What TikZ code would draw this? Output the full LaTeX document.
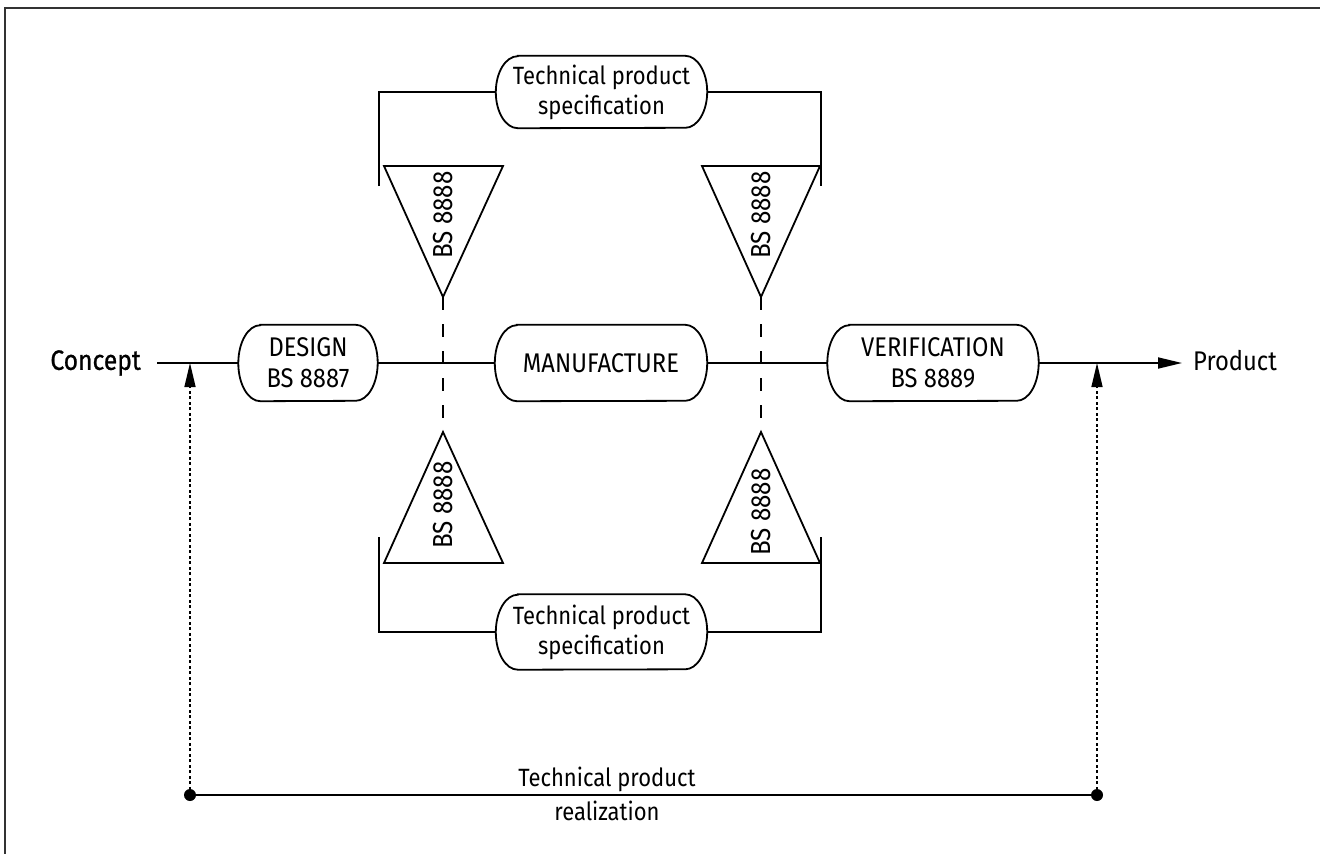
\documentclass[tikz,border=0pt]{standalone}
\usepackage{fontspec}
\setmainfont{Fira Sans}[FakeStretch=0.88]
\newfontfamily\conceptfont{Fira Sans}[FakeStretch=0.88, FakeBold=0.8]
\usetikzlibrary{arrows.meta}

% outline of a stage box: straight top and bottom, elliptic ends
% #1 node name, #2 half height of the box
\newcommand\stageoutline[2]{%
  \draw[line]
    ([xshift=22pt]#1.north west) -- ([xshift=-22pt]#1.north east)
    arc[start angle=90, end angle=-90, x radius=22pt, y radius=#2]
    -- ([xshift=22pt]#1.south west)
    arc[start angle=270, end angle=90, x radius=22pt, y radius=#2]
    -- cycle;}

\tikzset{
  x=1pt, y=-1pt,
  line/.style={line width=1.8pt},
  stage/.style={rectangle, inner sep=0pt, minimum height=76pt, align=center,
    font=\fontsize{27}{31}\selectfont},
  spec/.style={stage, font=\fontsize{25}{30}\selectfont},
  label/.style={inner sep=0pt, font=\fontsize{27}{31}\selectfont},
  stdtri/.style={line width=1.8pt, line join=miter},
  stdtext/.style={inner sep=0pt, rotate=90, font=\fontsize{27.5}{31}\selectfont},
  link/.style={line width=1.8pt, dash pattern=on 13pt off 14pt},
  feed/.style={line width=1.4pt, dash pattern=on 3pt off 2.5pt,
    -{Triangle[length=24pt,width=11pt]}},
  arrowline/.style={line width=1.8pt, -{Triangle[length=24pt,width=11pt]}},
  frame/.style={line width=2pt, black!80},
}

\begin{document}
\begin{tikzpicture}
\useasboundingbox (0,0) rectangle (1320,854);

% sheet frame
\draw[frame] (5,854) -- (5,8) -- (1320,8);

% main process chain
\node[label, font=\fontsize{28}{32}\conceptfont, anchor=east] (concept) at (141,363) {Concept};
\node[stage, minimum width=139pt] (design) at (308,363) {DESIGN\\BS 8887};
\node[stage, minimum width=212pt] (manuf) at (601,363) {MANUFACTURE};
\node[stage, minimum width=211pt] (verif) at (933,363) {VERIFICATION\\BS 8889};
\node[label, anchor=west] (product) at (1193,361) {Product};
\stageoutline{design}{38pt}
\stageoutline{manuf}{38pt}
\stageoutline{verif}{38pt}

\coordinate (cstart) at (157,363);
\coordinate (pend) at (1182,363);
\draw[line] (cstart) -- (design.west);
\draw[line] (design.east) -- (manuf.west);
\draw[line] (manuf.east) -- (verif.west);
\draw[arrowline] (verif.east) -- (pend);

% specification boxes
\node[spec, minimum width=211pt, minimum height=72pt] (tpsup) at (601.5,92) {Technical product\\specification};
\node[spec, minimum width=211pt, minimum height=75pt] (tpslo) at (601.5,632) {Technical product\\specification};
\stageoutline{tpsup}{36pt}
\stageoutline{tpslo}{37.5pt}

% BS 8888 triangles
\coordinate (ula) at (443,297);
\coordinate (ura) at (761,297);
\coordinate (lla) at (443,432);
\coordinate (lra) at (761,432);
\draw[stdtri] (384,166) -- (503,166) -- (ula) -- cycle;
\draw[stdtri] (702,166) -- (820,166) -- (ura) -- cycle;
\draw[stdtri] (384,563) -- (503,563) -- (lla) -- cycle;
\draw[stdtri] (702,563) -- (820,563) -- (lra) -- cycle;
\node[stdtext] (tul) at (443,215) {BS 8888};
\node[stdtext] (tur) at (761,215) {BS 8888};
\node[stdtext] (tll) at (443,505) {BS 8888};
\node[stdtext] (tlr) at (761,512) {BS 8888};

% dashed links between triangle tips
\draw[link] (ula) -- (lla);
\draw[link] (ura) -- (lra);

% brackets to the specification boxes
\coordinate (bul) at (379,186);
\coordinate (bur) at (821,186);
\coordinate (bll) at (379,537);
\coordinate (blr) at (821,537);
\draw[line] (bul) |- (tpsup.west);
\draw[line] (tpsup.east) -| (bur);
\draw[line] (bll) |- (tpslo.west);
\draw[line] (tpslo.east) -| (blr);

% realization span
\coordinate (rl) at (190,795);
\coordinate (rr) at (1097,795);
\coordinate (fl) at (190,363);
\coordinate (fr) at (1097,363);
\draw[line] (rl) -- (rr);
\fill (rl) circle (6pt);
\fill (rr) circle (6pt);
\draw[feed] (rl) -- (fl);
\draw[feed] (rr) -- (fr);
\node[label, font=\fontsize{25}{30}\selectfont, anchor=south] (real1) at (607,792) {Technical product};
\node[label, font=\fontsize{25}{30}\selectfont, anchor=north] (real2) at (607,801) {realization};
\end{tikzpicture}
\end{document}
